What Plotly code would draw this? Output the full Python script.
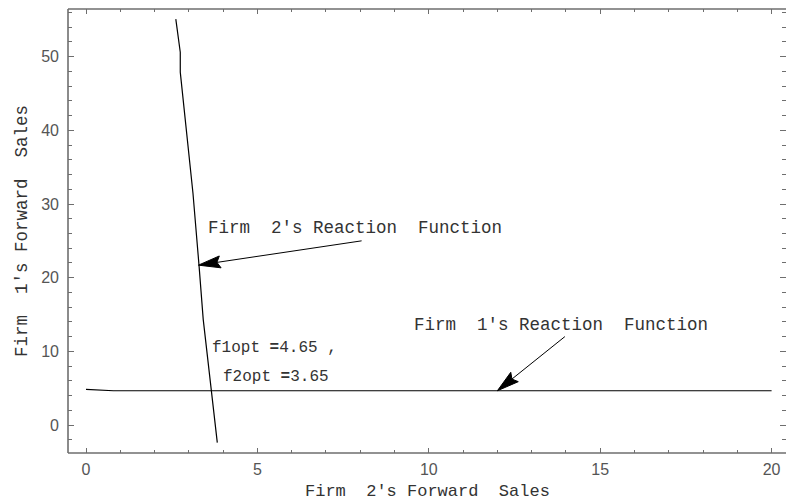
import math
import plotly.graph_objects as go

# Firm 2's reaction function: firm 2's forward sales (x) against firm 1's (y)
firm2_x = [2.62, 2.75, 2.75, 3.12, 3.30, 3.42, 3.83]
firm2_y = [55.1, 50.6, 47.9, 31.5, 21.5, 14.3, -2.4]

# Firm 1's reaction function
firm1_x = [0.0, 0.8, 20.0]
firm1_y = [4.85, 4.65, 4.65]

f1opt = 4.65
f2opt = 3.65

x_ticks = [0, 5, 10, 15, 20]
y_ticks = [0, 10, 20, 30, 40, 50]

MONO = "Liberation Mono, Courier New, monospace"
SANS = "Liberation Sans, Arial, sans-serif"
FRAME = "#6e6e6e"
TEXT = "#333333"

W, H = 786, 502
M = dict(l=68, r=0, t=9, b=49)
X_RANGE = [-0.525, 20.42]
Y_RANGE = [-3.80, 56.47]

# pixels per data unit, used to give the arrowheads a fixed on-screen shape
sx = (W - M["l"] - M["r"]) / (X_RANGE[1] - X_RANGE[0])
sy = (H - M["t"] - M["b"]) / (Y_RANGE[1] - Y_RANGE[0])


def arrow_shapes(tail, tip, head_len=22, head_half=6):
    """Shaft plus a long filled head pointing from tail to tip."""
    dx = (tip[0] - tail[0]) * sx
    dy = (tip[1] - tail[1]) * sy
    n = math.hypot(dx, dy)
    ux, uy = dx / n, dy / n
    bx, by = -ux * head_len, -uy * head_len
    px, py = -uy * head_half, ux * head_half
    pts = [
        tip,
        (tip[0] + (bx + px) / sx, tip[1] + (by + py) / sy),
        (tip[0] + (bx * 0.85) / sx, tip[1] + (by * 0.85) / sy),
        (tip[0] + (bx - px) / sx, tip[1] + (by - py) / sy),
    ]
    path = "M " + " L ".join(f"{a},{b}" for a, b in pts) + " Z"
    return [
        dict(type="line", xref="x", yref="y", x0=tail[0], y0=tail[1],
             x1=tip[0] + bx * 0.8 / sx, y1=tip[1] + by * 0.8 / sy,
             line=dict(color="black", width=1)),
        dict(type="path", xref="x", yref="y", path=path,
             fillcolor="black", line=dict(color="black", width=1)),
    ]


fig = go.Figure()
fig.add_trace(go.Scatter(x=firm2_x, y=firm2_y, mode="lines",
                         line=dict(color="black", width=1.2), showlegend=False))
fig.add_trace(go.Scatter(x=firm1_x, y=firm1_y, mode="lines",
                         line=dict(color="black", width=1.2), showlegend=False))

common_axis = dict(
    showgrid=False, zeroline=False, showline=False,
    mirror="allticks", ticks="inside", tickcolor=FRAME, tickwidth=1,
    automargin=False,
    tickfont=dict(family=SANS, size=16, color="#555555"),
)

fig.update_xaxes(range=X_RANGE, tickvals=x_ticks, ticklen=5,
                 minor=dict(dtick=1, tick0=0, ticks="inside", ticklen=3,
                            tickcolor=FRAME, tickwidth=1),
                 ticklabelstandoff=5, **common_axis)
fig.update_yaxes(range=Y_RANGE, tickvals=y_ticks, ticklen=6,
                 minor=dict(dtick=2, tick0=0, ticks="inside", ticklen=4,
                            tickcolor=FRAME, tickwidth=1),
                 ticklabelstandoff=8, **common_axis)

# frame on the left, bottom and top; the right edge sits at the page border
frame_line = dict(color=FRAME, width=1.6)
shapes = [
    dict(type="line", xref="paper", yref="paper", x0=0, y0=0, x1=0, y1=1, line=frame_line),
    dict(type="line", xref="paper", yref="paper", x0=0, y0=0, x1=1, y1=0, line=frame_line),
    dict(type="line", xref="paper", yref="paper", x0=0, y0=1, x1=1, y1=1, line=frame_line),
]
shapes += (arrow_shapes((8.04, 25.0), (3.28, 21.7))
           + arrow_shapes((13.97, 12.0), (12.0, f1opt)))

annotations = [
    # axis titles
    dict(text="Firm  2's Forward  Sales", xref="paper", yref="paper",
         x=0.5, y=-0.086, xanchor="center", yanchor="middle", showarrow=False,
         font=dict(family=MONO, size=17, color=TEXT)),
    dict(text="Firm  1's Forward  Sales", xref="paper", yref="paper",
         x=-0.064, y=0.5, xanchor="center", yanchor="middle", showarrow=False,
         textangle=-90, font=dict(family=MONO, size=17.5, color=TEXT)),
    # curve labels
    dict(text="Firm  2's Reaction  Function", x=3.50, y=26.7, xanchor="left",
         yanchor="middle", showarrow=False,
         font=dict(family=MONO, size=17.5, color=TEXT)),
    dict(text="Firm  1's Reaction  Function", x=9.50, y=13.6, xanchor="left",
         yanchor="middle", showarrow=False,
         font=dict(family=MONO, size=17.5, color=TEXT)),
    dict(text="f1opt <b>=</b>%.2f ," % f1opt, x=3.62, y=10.4, xanchor="left",
         yanchor="middle", showarrow=False,
         font=dict(family=MONO, size=16, color=TEXT)),
    dict(text="f2opt <b>=</b>%.2f" % f2opt, x=3.95, y=6.56, xanchor="left",
         yanchor="middle", showarrow=False,
         font=dict(family=MONO, size=16, color=TEXT)),
]

fig.update_layout(
    width=W, height=H,
    margin=M,
    paper_bgcolor="white", plot_bgcolor="white",
    shapes=shapes,
    annotations=annotations,
)

fig.write_html("out.html")
